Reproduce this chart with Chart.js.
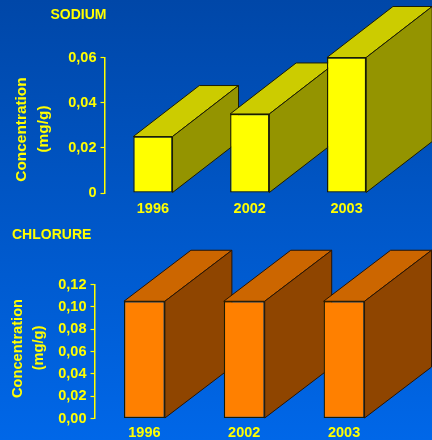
<!DOCTYPE html>
<html>
<head>
<meta charset="utf-8">
<title>Sodium et chlorure</title>
<script src="https://cdn.jsdelivr.net/npm/chart.js@4"></script>
<style>
  html, body { margin: 0; padding: 0; }
  body {
    width: 432px; height: 440px; overflow: hidden; position: relative;
    background: linear-gradient(180deg, #0047a8 0%, #0067e8 100%);
  }
  canvas { position: absolute; left: 0; }
  #sodiumChart { top: 0; }
  #chlorureChart { top: 220px; }
</style>
</head>
<body>
<canvas id="sodiumChart" width="432" height="220"></canvas>
<canvas id="chlorureChart" width="432" height="220"></canvas>
<script>
const years = ['1996', '2002', '2003'];

const sodiumValues = [0.025, 0.035, 0.06];
const sodiumTicks = ['0', '0,02', '0,04', '0,06'];

const chlorureValues = [0.105, 0.105, 0.105];
const chlorureTicks = ['0,00', '0,02', '0,04', '0,06', '0,08', '0,10', '0,12'];

const YELLOW = '#ffff00';
const FONT = '"Liberation Sans", Arial, sans-serif';

// fake 3D: top and side faces go behind the bars, left to right
const depthPlugin = {
  id: 'depth',
  beforeDatasetsDraw(chart, args, opts) {
    const ctx = chart.ctx;
    chart.getDatasetMeta(0).data.forEach((bar) => {
      const half = bar.width / 2;
      const l = bar.x - half, r = bar.x + half;
      const t = bar.y, b = bar.base;
      const face = (points, color) => {
        ctx.beginPath();
        points.forEach((p, i) => i ? ctx.lineTo(p[0], p[1]) : ctx.moveTo(p[0], p[1]));
        ctx.closePath();
        ctx.fillStyle = color;
        ctx.fill();
        ctx.stroke();
      };
      ctx.save();
      ctx.strokeStyle = opts.edge;
      ctx.lineWidth = 1;
      face([[l, t], [l + opts.dx, t - opts.dy], [r + opts.dx, t - opts.dy], [r, t]], opts.topColor);
      face([[r, t], [r + opts.dx, t - opts.dy], [r + opts.dx, b - opts.dy], [r, b]], opts.sideColor);
      ctx.restore();
    });
  }
};

// panel name and the two line rotated axis caption
const captionPlugin = {
  id: 'caption',
  afterDraw(chart, args, opts) {
    const ctx = chart.ctx;
    ctx.save();
    ctx.fillStyle = YELLOW;
    ctx.textBaseline = 'middle';
    ctx.textAlign = 'left';
    ctx.font = 'bold 14px ' + FONT;
    ctx.fillText(opts.name, opts.nameX, opts.nameY);
    ctx.textAlign = 'center';
    ctx.font = 'bold ' + opts.size + 'px ' + FONT;
    opts.lines.forEach((line) => {
      ctx.save();
      ctx.translate(line.x, line.y);
      ctx.rotate(-Math.PI / 2);
      ctx.fillText(line.text, 0, 0);
      ctx.restore();
    });
    ctx.restore();
  }
};

function makePanel(id, values, ticks, max, p) {
  return new Chart(document.getElementById(id), {
    type: 'bar',
    data: {
      labels: years,
      datasets: [{
        data: values,
        backgroundColor: p.front,
        borderColor: '#1c1c00',
        borderWidth: 1.3,
        borderSkipped: false,
        categoryPercentage: 1,
        barPercentage: p.barPercentage
      }]
    },
    plugins: [depthPlugin, captionPlugin],
    options: {
      responsive: false,
      animation: false,
      layout: { padding: { top: p.top, right: p.right, left: 0, bottom: 0 } },
      plugins: {
        legend: { display: false },
        tooltip: { enabled: false },
        depth: { dx: p.dx, dy: 51, topColor: p.topColor, sideColor: p.sideColor, edge: p.edge },
        caption: p.caption
      },
      scales: {
        x: {
          grid: { display: false, tickLength: 0 },
          border: { display: false },
          afterFit: (scale) => { scale.height = p.xHeight; },
          ticks: {
            color: YELLOW,
            padding: p.xPad,
            maxRotation: 0,
            font: { family: FONT, size: 14.5, weight: 'bold' }
          }
        },
        y: {
          min: 0,
          max: max,
          afterFit: (scale) => { scale.width = p.axisX; },
          border: { display: true, color: YELLOW, width: 1.5 },
          grid: { drawOnChartArea: false, drawTicks: true, tickLength: 4, tickColor: YELLOW, tickWidth: 1.2 },
          ticks: {
            stepSize: 0.02,
            color: YELLOW,
            padding: 4,
            font: { family: FONT, size: 14.5, weight: 'bold' },
            callback: (v, i) => ticks[i]
          }
        }
      }
    }
  });
}

makePanel('sodiumChart', sodiumValues, sodiumTicks, 0.06, {
  front: '#ffff00', topColor: '#cccc00', sideColor: '#949400', edge: '#1c1c00',
  top: 57.5, right: 37, dx: 66, xHeight: 27, xPad: 7.5, axisX: 104.5, barPercentage: 0.405,
  caption: {
    name: 'SODIUM', nameX: 50.5, nameY: 15, size: 15.4,
    lines: [
      { text: 'Concentration', x: 21.5, y: 129.5 },
      { text: '(mg/g)', x: 43.5, y: 129 }
    ]
  }
});

makePanel('chlorureChart', chlorureValues, chlorureTicks, 0.12, {
  front: '#ff8000', topColor: '#cc6600', sideColor: '#8f4500', edge: '#2a1400',
  top: 64.5, right: 38, dx: 67, xHeight: 21.5, xPad: 6, axisX: 94.5, barPercentage: 0.41,
  caption: {
    name: 'CHLORURE', nameX: 12, nameY: 15, size: 14.6,
    lines: [
      { text: 'Concentration', x: 18, y: 128.5 },
      { text: '(mg/g)', x: 38.5, y: 128 }
    ]
  }
});
</script>
</body>
</html>
